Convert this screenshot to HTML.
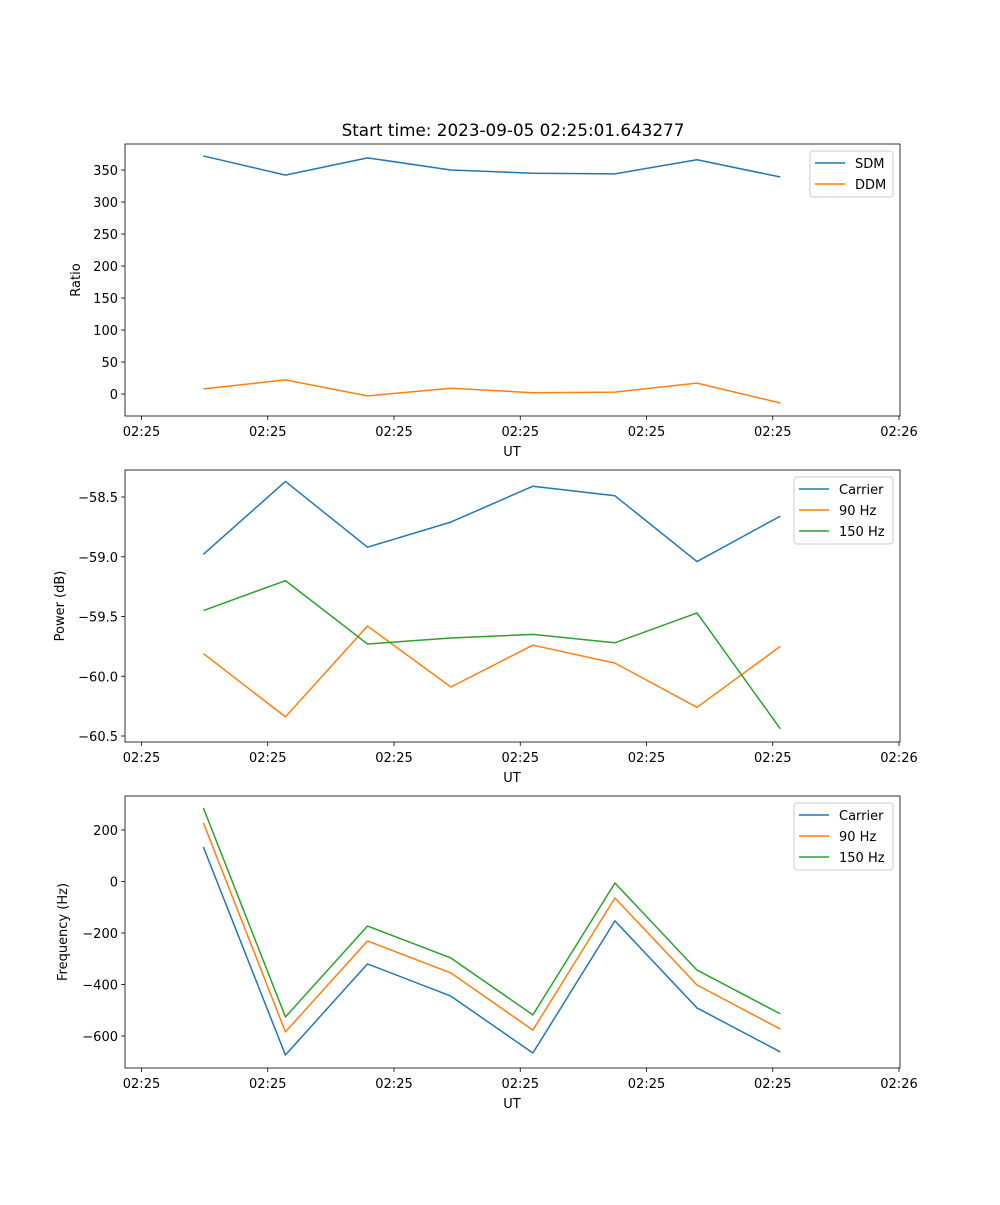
<!DOCTYPE html>
<html><head><meta charset="utf-8"><style>
body{margin:0;background:#fff}
svg text{font-family:"DejaVu Sans","Liberation Sans",sans-serif;fill:#000}
</style></head><body>
<svg id="fig" width="1000" height="1200" xmlns="http://www.w3.org/2000/svg">
<text x="513" y="136" font-size="16.8" text-anchor="middle">Start time: 2023-09-05 02:25:01.643277</text>
</svg>
<script>
const times=[4.9,11.4,17.9,24.5,31.0,37.5,44.0,50.6];
const xTicks=[0,10,20,30,40,50,60];
const xTickLabels=["02:25","02:25","02:25","02:25","02:25","02:25","02:26"];
const sdm=[372,342,369,350,345,344,366,339];
const ddm=[8,22,-3,9,2,3,17,-14];
const ratioTicks=[0,50,100,150,200,250,300,350];
const powCarrier=[-58.98,-58.37,-58.92,-58.71,-58.41,-58.49,-59.04,-58.66];
const pow90=[-59.81,-60.34,-59.58,-60.09,-59.74,-59.89,-60.26,-59.75];
const pow150=[-59.45,-59.2,-59.73,-59.68,-59.65,-59.72,-59.47,-60.44];
const powTicks=[-58.5,-59.0,-59.5,-60.0,-60.5];
const powTickLabels=["\u221258.5","\u221259.0","\u221259.5","\u221260.0","\u221260.5"];
const freqCarrier=[134,-674,-320,-445,-666,-153,-491,-662];
const freq90=[228,-584,-231,-355,-577,-64,-402,-573];
const freq150=[286,-526,-173,-297,-518,-6,-344,-514];
const freqTicks=[200,0,-200,-400,-600];
const freqTickLabels=["200","0","\u2212200","\u2212400","\u2212600"];

const NS="http://www.w3.org/2000/svg";
const fig=document.getElementById('fig');
function mk(tag,attrs,parent){const e=document.createElementNS(NS,tag);for(const k in attrs)e.setAttribute(k,attrs[k]);(parent||fig).appendChild(e);return e;}
const L=125,R=900;
function xs(t){return 141.5+(t-0)*(899-141.5)/60;}
const C={blue:'#1f77b4',orange:'#ff7f0e',green:'#2ca02c'};

function panel(o){
  const g=mk('g',{});
  
  
  const ys=v=>o.y0+(v-o.v0)*(o.y1-o.y0)/(o.v1-o.v0);
  xTicks.forEach((t,i)=>{
    const x=xs(t);
    const tk=mk('line',{x1:x,x2:x,y1:o.bot,y2:o.bot+4,stroke:'#000','stroke-width':0.8},g);
    
    
    const tx=mk('text',{x:x,y:o.bot+20,'font-size':13,'text-anchor':'middle'},g);
    tx.textContent=xTickLabels[i];
    
    
  });
  o.yTicks.forEach((v,i)=>{
    const y=ys(v);
    mk('line',{x1:L-4,x2:L,y1:y,y2:y,stroke:'#000','stroke-width':0.8},g);
    const tx=mk('text',{x:L-7,y:y+5,'font-size':13,'text-anchor':'end'},g);
    tx.textContent=o.yLabels?o.yLabels[i]:String(v);
    
    
  });
  const xl=mk('text',{x:512,y:o.bot+40,'font-size':13,'text-anchor':'middle'},g);
  xl.textContent='UT';
  
  
  const cy=(o.top+o.bot)/2;
  const yl=mk('text',{x:0,y:0,'font-size':13,'text-anchor':'middle',transform:`translate(${o.ylx},${cy}) rotate(-90)`},g);
  yl.textContent=o.ytitle;
  
  
  o.series.forEach(s=>{
    const p=mk('polyline',{points:s.vals.map((v,i)=>xs(times[i])+','+ys(v)).join(' '),fill:'none',stroke:s.c,'stroke-width':1.5,'stroke-linejoin':'round'},g);
    
    
  });
  mk('rect',{x:L,y:o.top,width:R-L,height:o.bot-o.top,fill:'none',stroke:'#000','stroke-width':0.8},g);
  const lw=o.legW, lx=893-lw, ly=o.top+7, lh=4+21*o.series.length;
  const lg=mk('g',{},g);
  
  
  mk('rect',{x:lx,y:ly,width:lw,height:lh,rx:3,fill:'#fff','fill-opacity':0.8,stroke:'#ccc'},lg);
  o.series.forEach((s,i)=>{
    const yy=ly+12+21*i;
    mk('line',{x1:lx+5,x2:lx+35,y1:yy,y2:yy,stroke:s.c,'stroke-width':1.5},lg);
    const t=mk('text',{x:lx+45,y:yy+5,'font-size':13},lg);
    t.textContent=s.n;
    
    
  });
}
panel({name:'ratio-panel',top:144,bot:416,y0:394,v0:0,y1:170,v1:350,yTicks:ratioTicks,ytitle:'Ratio',ylx:80,legW:83,
  series:[{n:'SDM',vals:sdm,c:C.blue},{n:'DDM',vals:ddm,c:C.orange}]});
panel({name:'power-panel',top:470,bot:742,y0:497,v0:-58.5,y1:736,v1:-60.5,yTicks:powTicks,yLabels:powTickLabels,ytitle:'Power (dB)',ylx:64,legW:99,
  series:[{n:'Carrier',vals:powCarrier,c:C.blue},{n:'90 Hz',vals:pow90,c:C.orange},{n:'150 Hz',vals:pow150,c:C.green}]});
panel({name:'frequency-panel',top:796,bot:1068,y0:830,v0:200,y1:1036,v1:-600,yTicks:freqTicks,yLabels:freqTickLabels,ytitle:'Frequency (Hz)',ylx:67,legW:99,
  series:[{n:'Carrier',vals:freqCarrier,c:C.blue},{n:'90 Hz',vals:freq90,c:C.orange},{n:'150 Hz',vals:freq150,c:C.green}]});
</script>
</body></html>
